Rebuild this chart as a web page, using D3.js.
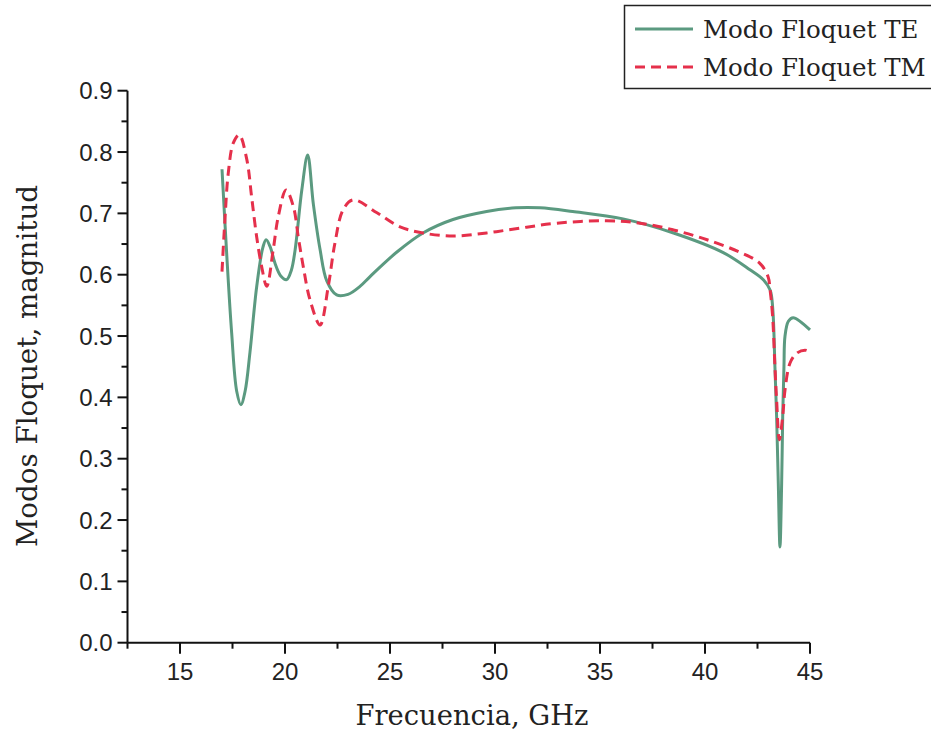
<!DOCTYPE html>
<html><head><meta charset="utf-8">
<script src="https://cdn.jsdelivr.net/npm/d3@7"></script>
<style>body{margin:0;background:#fff}svg{display:block}</style>
</head><body>
<svg id="c" width="931" height="734"></svg>
<script>
const teFreq = [17.0,17.22,17.46,17.7,17.9,18.1,18.33,18.65,18.95,19.1,19.3,19.52,19.8,20.08,20.3,20.48,20.8,21.08,21.35,21.67,21.99,22.46,23.0,23.57,24.05,25.33,26.57,28.0,29.6,31.0,32.14,33.7,36.1,38.5,40.87,42.14,42.8,43.1,43.17,43.25,43.33,43.41,43.49,43.57,43.65,43.7,43.76,43.81,43.97,44.2,45.0];
const teVal  = [0.772,0.636,0.505,0.41,0.388,0.41,0.473,0.58,0.645,0.657,0.645,0.619,0.598,0.592,0.607,0.640,0.738,0.795,0.715,0.641,0.590,0.567,0.568,0.581,0.597,0.637,0.668,0.690,0.703,0.709,0.709,0.703,0.691,0.668,0.636,0.608,0.591,0.575,0.565,0.532,0.45,0.369,0.26,0.156,0.26,0.369,0.45,0.50,0.524,0.530,0.51];
const tmFreq = [17.0,17.14,17.3,17.54,17.82,18.18,18.41,18.65,18.89,19.13,19.44,19.68,20.05,20.4,20.63,20.87,21.19,21.67,22.06,22.38,22.77,23.25,24.38,25.48,26.57,28.0,29.6,31.2,32.95,35.3,36.9,38.5,40.1,41.7,42.6,43.0,43.1,43.22,43.33,43.41,43.54,43.7,43.81,44.05,44.37,44.76,45.0];
const tmVal  = [0.605,0.69,0.766,0.815,0.828,0.788,0.727,0.662,0.613,0.581,0.641,0.695,0.738,0.711,0.662,0.613,0.559,0.518,0.581,0.652,0.706,0.722,0.701,0.678,0.668,0.663,0.668,0.676,0.684,0.688,0.684,0.673,0.657,0.636,0.619,0.597,0.575,0.532,0.45,0.396,0.331,0.369,0.412,0.456,0.472,0.477,0.474];
const seriesNames = ["Modo Floquet TE","Modo Floquet TM"];
const xTicks = [15,20,25,30,35,40,45];
const yTicks = [0.0,0.1,0.2,0.3,0.4,0.5,0.6,0.7,0.8,0.9];
const xLabel = "Frecuencia, GHz";
const yLabel = "Modos Floquet, magnitud";

const svg = d3.select("#c");
const x = d3.scaleLinear().domain([12.5,45]).range([127.5,810]);
const y = d3.scaleLinear().domain([0,0.9]).range([642.7,90.7]);
const green = "#5b9a80", red = "#e5304b";
const tickFont = "Liberation Sans, Arial, sans-serif";
const serif = "DejaVu Serif, serif";

// axes
const xAxis = svg.append("g").attr("transform","translate(0,642.7)");
xAxis.append("line").attr("x1",x(12.5)).attr("x2",x(45)).attr("stroke","#111").attr("stroke-width",2);
const xMinor = d3.range(12.5,45.01,2.5);
xAxis.selectAll(".xt").data(xMinor).join("line")
  .attr("x1",d=>x(d)).attr("x2",d=>x(d)).attr("y1",0)
  .attr("y2",d=>xTicks.includes(d)?11:6).attr("stroke","#111").attr("stroke-width",2);
xAxis.selectAll(".xl").data(xTicks).join("text")
  .attr("x",d=>x(d)).attr("y",37).attr("text-anchor","middle")
  .attr("font-family",tickFont).attr("font-size",24).attr("fill","#222")
  .text(d=>d);

const yAxis = svg.append("g").attr("transform","translate(127.5,0)");
yAxis.append("line").attr("y1",y(0)).attr("y2",y(0.9)).attr("stroke","#111").attr("stroke-width",2);
const yMinor = d3.range(0,18.5).map(i=>i*0.05);
yAxis.selectAll(".yt").data(yMinor).join("line")
  .attr("y1",d=>y(d)).attr("y2",d=>y(d)).attr("x1",0)
  .attr("x2",(d,i)=>i%2===0?-10:-6).attr("stroke","#111").attr("stroke-width",2);
yAxis.selectAll(".yl").data(yTicks).join("text")
  .attr("x",-15).attr("y",d=>y(d)).attr("dy","0.36em").attr("text-anchor","end")
  .attr("font-family",tickFont).attr("font-size",24).attr("fill","#222")
  .text(d=>d.toFixed(1));

// lines
const line = d3.line().x(d=>x(d[0])).y(d=>y(d[1])).curve(d3.curveCatmullRom.alpha(0.5));
svg.append("path").datum(d3.zip(teFreq,teVal)).attr("d",line)
  .attr("fill","none").attr("stroke",green).attr("stroke-width",3).attr("stroke-linejoin","round");
svg.append("path").datum(d3.zip(tmFreq,tmVal)).attr("d",line)
  .attr("fill","none").attr("stroke",red).attr("stroke-width",3).attr("stroke-dasharray","10,6");

// axis titles
svg.append("text").attr("x",472).attr("y",725).attr("text-anchor","middle")
  .attr("font-family",serif).attr("font-size",27).attr("fill","#222")
  .attr("textLength",233).attr("lengthAdjust","spacingAndGlyphs").text(xLabel);
svg.append("text").attr("transform","translate(37,366) rotate(-90)").attr("text-anchor","middle")
  .attr("font-family",serif).attr("font-size",27).attr("fill","#222")
  .attr("textLength",362).attr("lengthAdjust","spacingAndGlyphs").text(yLabel);

// legend
const lg = svg.append("g");
lg.append("rect").attr("x",624.5).attr("y",5.5).attr("width",320).attr("height",83)
  .attr("fill","#fff").attr("stroke","#222").attr("stroke-width",1.5);
const cols=[green,red], dashes=[null,"10,6"];
seriesNames.forEach((n,i)=>{
  const yy = 29 + i*38;
  lg.append("line").attr("x1",635).attr("x2",693).attr("y1",yy).attr("y2",yy)
    .attr("stroke",cols[i]).attr("stroke-width",3).attr("stroke-dasharray",dashes[i]);
  lg.append("text").attr("x",703).attr("y",yy).attr("dy","0.35em")
    .attr("font-family",serif).attr("font-size",24.5).attr("fill","#222").text(n);
});
</script>
</body></html>
